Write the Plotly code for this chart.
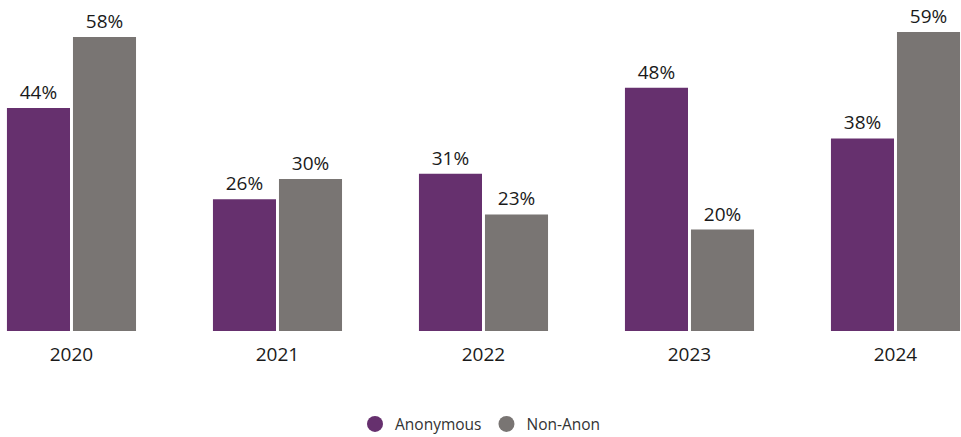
import plotly.graph_objects as go

years = ["2020", "2021", "2022", "2023", "2024"]
anonymous = [44, 26, 31, 48, 38]
non_anon = [58, 30, 23, 20, 59]

PURPLE = "#66306E"
GREY = "#797573"
FONT = "Open Sans, sans-serif"

fig = go.Figure()
for name, vals, color in [("Anonymous", anonymous, PURPLE), ("Non-Anon", non_anon, GREY)]:
    fig.add_trace(go.Bar(
        name=name,
        x=years,
        y=vals,
        marker=dict(color=color, line=dict(width=0)),
        text=[f"{v}%" for v in vals],
        textposition="outside",
        textfont=dict(family=FONT, size=19, color="#1a1a1a"),
        cliponaxis=False,
        showlegend=False,
    ))

# circular legend swatches
for name, color in [("Anonymous", PURPLE), ("Non-Anon", GREY)]:
    fig.add_trace(go.Scatter(
        name=name,
        x=[None],
        y=[None],
        mode="markers",
        marker=dict(color=color, size=16, symbol="circle"),
        showlegend=True,
    ))

fig.update_layout(
    width=961,
    height=437,
    margin=dict(l=0, r=0, t=0, b=106, autoexpand=False),
    paper_bgcolor="white",
    plot_bgcolor="white",
    barmode="group",
    bargap=0.359,
    bargroupgap=0.045,
    font=dict(family=FONT, color="#1a1a1a"),
    xaxis=dict(
        type="category",
        range=[-0.347, 4.318],
        showgrid=False,
        showline=False,
        zeroline=False,
        ticks="outside",
        ticklen=6,
        tickcolor="rgba(0,0,0,0)",
        tickfont=dict(family=FONT, size=19, color="#1a1a1a"),
    ),
    yaxis=dict(
        range=[0, 65.3],
        visible=False,
        showgrid=False,
        zeroline=False,
    ),
    legend=dict(
        orientation="h",
        x=0.5,
        xanchor="center",
        y=-0.282,
        yanchor="middle",
        font=dict(family=FONT, size=15.5, color="#333333"),
        traceorder="normal",
    ),
    showlegend=True,
)

fig.write_html("out.html")
